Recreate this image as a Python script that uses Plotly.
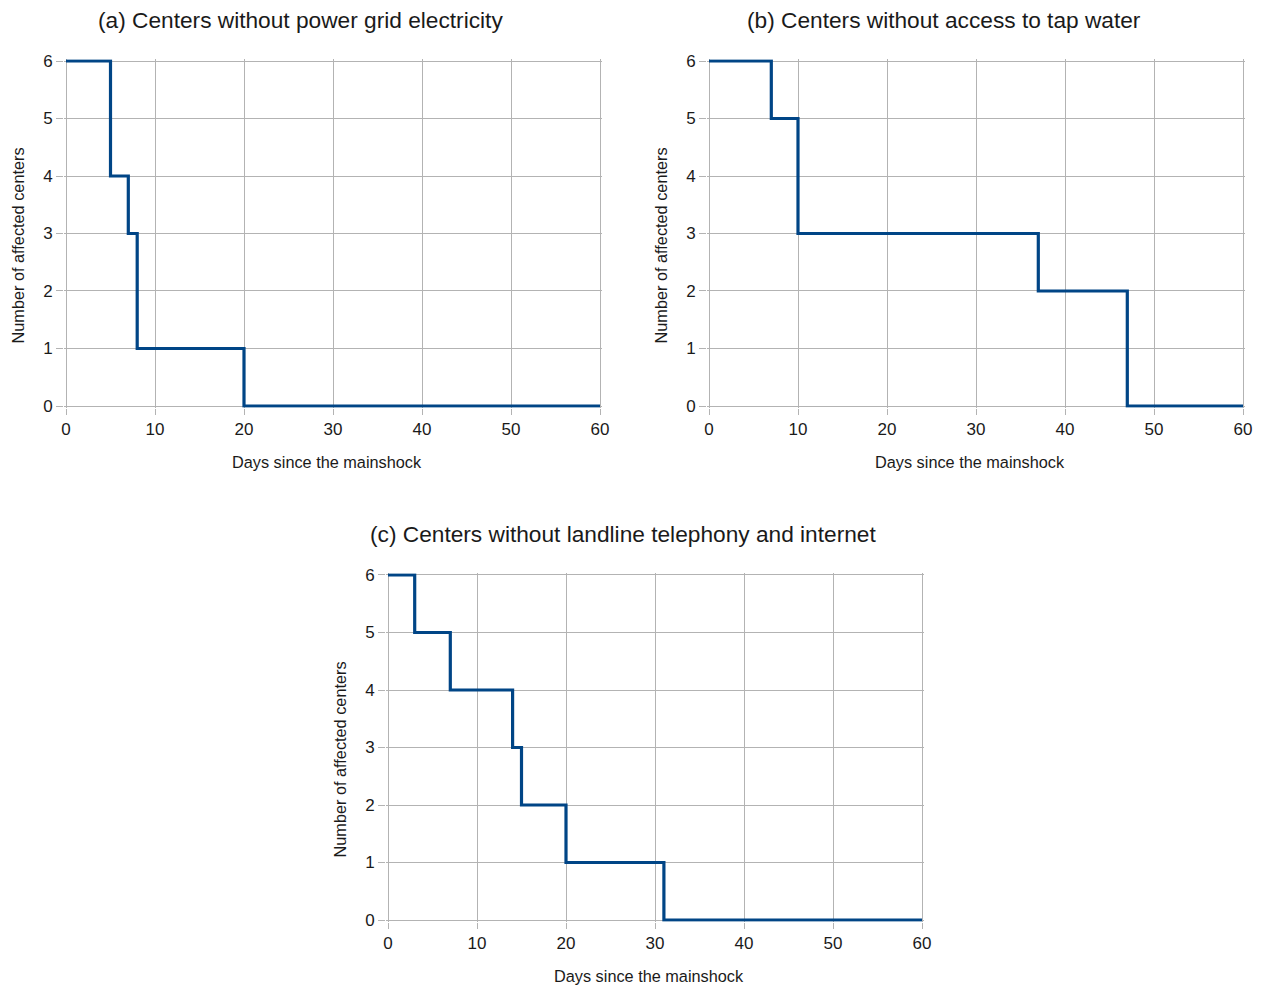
import plotly.graph_objects as go

W, H = 1263, 985

# Data (step functions: value holds from the given day until the next)
days_a = [0, 5, 7, 8, 20, 60]
cnt_a = [6, 4, 3, 1, 0, 0]
days_b = [0, 7, 10, 37, 47, 60]
cnt_b = [6, 5, 3, 2, 0, 0]
days_c = [0, 3, 7, 14, 15, 20, 31, 60]
cnt_c = [6, 5, 4, 3, 2, 1, 0, 0]

titles = ["(a) Centers without power grid electricity",
          "(b) Centers without access to tap water",
          "(c) Centers without landline telephony and internet"]
xlabel = "Days since the mainshock"
ylabel = "Number of affected centers"

x_ticks = [0, 10, 20, 30, 40, 50, 60]
y_ticks = [0, 1, 2, 3, 4, 5, 6]

FONT = "Liberation Sans, Arial, sans-serif"
LINE = "#004586"
GRID = "#b3b3b3"
TXT = "#1a1a1a"

# plot areas in pixels: (x0, x1, ytop, ybottom) for data range 0..60, 0..6
areas = [(66, 600, 61, 406), (709, 1243, 61, 406), (388, 922, 575, 920)]
datasets = [(days_a, cnt_a), (days_b, cnt_b), (days_c, cnt_c)]

fig = go.Figure()
PADX, PADY = 0.2, 0.03
for i, ((x0, x1, yt, yb), (dx, dy)) in enumerate(zip(areas, datasets)):
    n = "" if i == 0 else str(i + 1)
    sx = (x1 - x0) / 60.0
    sy = (yb - yt) / 6.0
    px0 = x0 - PADX * sx
    px1 = x1 + PADX * sx
    pyt = yt - PADY * sy
    pyb = yb + PADY * sy
    fig.add_trace(go.Scatter(x=dx, y=dy, mode="lines", line=dict(color=LINE, width=3.2, shape="hv"),
                             xaxis="x" + n, yaxis="y" + n, showlegend=False, hoverinfo="x+y"))
    fig.layout["xaxis" + n] = dict(domain=[px0 / W, px1 / W], range=[-PADX, 60 + PADX], anchor="y" + n,
                                   tickvals=x_ticks, showgrid=True, gridcolor=GRID, gridwidth=1,
                                   zeroline=False, showline=False, ticks="outside", ticklen=6,
                                   automargin=False,
                                   tickcolor=GRID, tickfont=dict(family=FONT, size=17, color=TXT))
    fig.layout["yaxis" + n] = dict(domain=[1 - pyb / H, 1 - pyt / H], range=[-PADY, 6 + PADY], anchor="x" + n,
                                   tickvals=y_ticks, showgrid=True, gridcolor=GRID, gridwidth=1,
                                   zeroline=False, showline=False, ticks="outside", ticklen=7,
                                   automargin=False,
                                   tickcolor=GRID, tickfont=dict(family=FONT, size=17, color=TXT))
    cx = (x0 + x1) / 2
    fig.add_annotation(text=titles[i], x=(cx - 32.5) / W, y=1 - (yt - 41) / H, xref="paper", yref="paper",
                       showarrow=False, font=dict(family=FONT, size=22.7, color=TXT), xanchor="center", yanchor="middle")
    fig.add_annotation(text=xlabel, x=(cx - 6) / W, y=1 - (yb + 56) / H, xref="paper", yref="paper",
                       showarrow=False, font=dict(family=FONT, size=16.3, color=TXT), xanchor="center", yanchor="middle")
    fig.add_annotation(text=ylabel, x=(x0 - 49) / W, y=1 - ((yt + yb) / 2 + 12) / H, xref="paper", yref="paper",
                       showarrow=False, textangle=-90, font=dict(family=FONT, size=16.3, color=TXT),
                       xanchor="center", yanchor="middle")

fig.update_layout(width=W, height=H, margin=dict(l=0, r=0, t=0, b=0, autoexpand=False), paper_bgcolor="white",
                  plot_bgcolor="white", font=dict(family=FONT))
fig.write_html("out.html", config={"displayModeBar": False},
               post_script="document.body.style.margin='0';document.body.style.overflow='hidden';")
